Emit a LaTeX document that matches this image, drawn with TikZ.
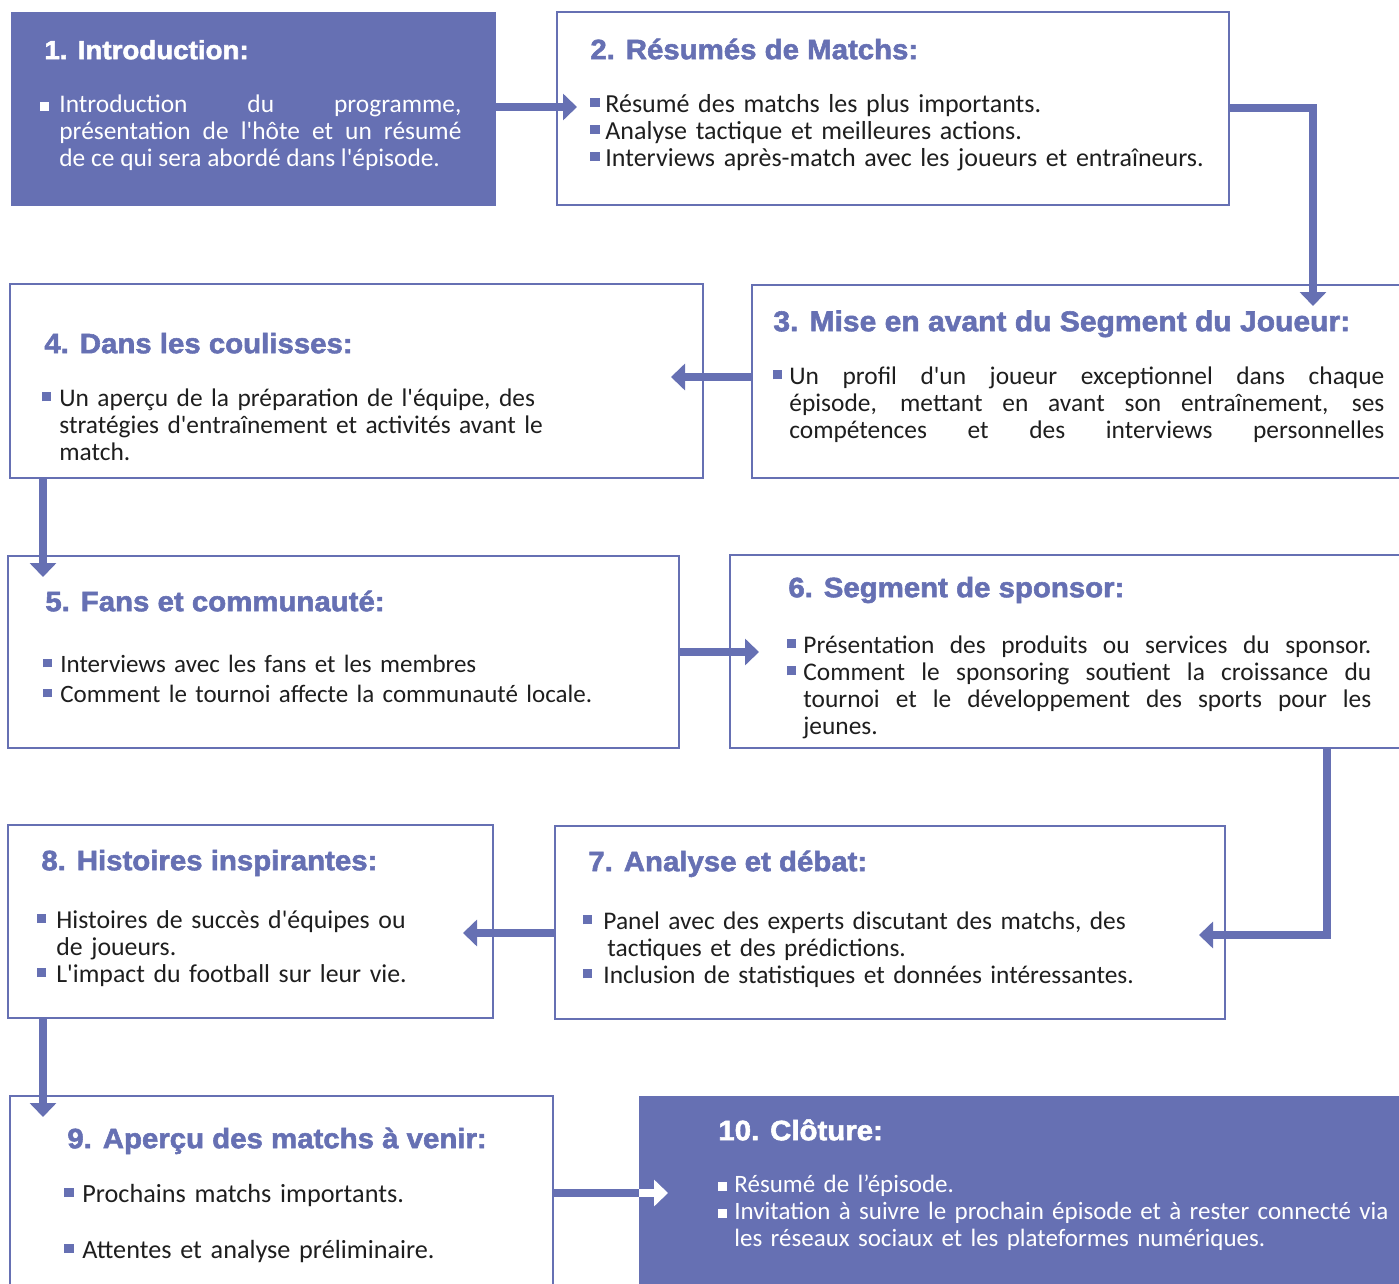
\documentclass[tikz,border=0pt]{standalone}
\usepackage{fontspec}
\setmainfont{Carlito}[Ligatures=TeXOff]
\newfontfamily\headfont{Liberation Sans}[FakeBold=2, FakeStretch=1.05]
\usetikzlibrary{arrows.meta,fit}

\definecolor{podblue}{HTML}{6670B3}
\definecolor{ink}{HTML}{1E1E1E}

\newlength\bulgap
\newcommand\bul{\par\noindent\hangindent\bulgap\hangafter1%
  \makebox[\bulgap][l]{\textcolor{podblue}{\rule[.2em]{.35em}{.35em}}}}
\newcommand\wbul{\par\noindent\hangindent\bulgap\hangafter1%
  \makebox[\bulgap][l]{\textcolor{white}{\rule[.05em]{.35em}{.35em}}}}

\begin{document}
\begin{tikzpicture}[x=0.5pt,y=-0.5pt,
    card/.style ={draw=podblue, line width=1pt, inner sep=0pt},
    filled/.style ={card, fill=podblue},
    head/.style ={font=\headfont\bfseries\fontsize{#1}{16}\selectfont, text=podblue,
                  inner sep=0pt, anchor=west, text height=.72em, text depth=.2em},
    head/.default=14,
    body/.style ={font=\fontsize{#1}{13.5}\selectfont, text=ink, inner sep=0pt,
                  anchor=north west, align=left},
    body/.default=12.7,
    gap/.style ={execute at begin node=\setlength\bulgap{#1}},
    flow/.style ={draw=podblue, line width=4pt, -{Triangle[width=13pt,length=7pt]}}]
   \useasboundingbox (0,0) rectangle (1399,1284);

   % boxes
   \node[filled, fit={(12,13) (495,205)}] (b1) {};
   \node[card, fit={(557,12) (1229,205)}] (b2) {};
   \node[card, fit={(752,285) (1404,478)}] (b3) {};
   \node[card, fit={(10,284) (703,478)}] (b4) {};
   \node[card, fit={(8,556) (679,748)}] (b5) {};
   \node[card, fit={(730,555) (1404,748)}] (b6) {};
   \node[card, fit={(555,826) (1225,1019)}] (b7) {};
   \node[card, fit={(8,825) (493,1018)}] (b8) {};
   \node[card, fit={(10,1096) (553,1290)}] (b9) {};
   \node[filled, fit={(640,1097) (1404,1290)}] (b10) {};

   % titles
   \node[head=13.2, text=white] (h1) at (44,54) {1. Introduction:};
   \node[head] (h2) at (590,54) {2. Résumés de Matchs:};
   \node[head=14.3] (h3) at (773,326) {3. Mise en avant du Segment du Joueur:};
   \node[head] (h4) at (44,348) {4. Dans les coulisses:};
   \node[head] (h5) at (45,606) {5. Fans et communauté:};
   \node[head] (h6) at (788,592) {6. Segment de sponsor:};
   \node[head] (h7) at (588,866) {7. Analyse et débat:};
   \node[head] (h8) at (41,865) {8. Histoires inspirantes:};
   \node[head] (h9) at (67,1143) {9. Aperçu des matchs à venir:};
   \node[head, text=white] (h10) at (718,1135) {10. Clôture:};

   % texts
   \node[body, gap=9.5pt, text=white, align=justify, text width=210.5pt] (t1) at (40,85)
     {\wbul Introduction du programme,\linebreak présentation de l'hôte et un résumé\linebreak de ce qui sera abordé dans l'épisode.\par};
   \node[body=13, gap=7.5pt, text width=320pt] (t2) at (590,85)
     {\bul Résumé des matchs les plus importants.\bul Analyse tactique et meilleures actions.\bul Interviews après-match avec les joueurs et entraîneurs.\par};
   \node[body, gap=8pt, align=justify, text width=305.5pt] (t3) at (773,357)
     {\bul Un profil d'un joueur exceptionnel dans chaque\linebreak épisode, mettant en avant son entraînement, ses\linebreak compétences et des interviews personnelles{\parfillskip=0pt\par}};
   \node[body, gap=8.5pt, text width=260pt] (t4) at (42,379)
     {\bul Un aperçu de la préparation de l'équipe, des\newline stratégies d'entraînement et activités avant le\newline match.\par};
   \node[body=12.5, gap=8.5pt, text width=300pt] (t5) at (43,645)
     {\bul Interviews avec les fans et les membres\par\vspace{1.5pt}\bul Comment le tournoi affecte la communauté locale.\par};
   \node[body, gap=8pt, align=justify, text width=292pt] (t6) at (787,626)
     {\bul Présentation des produits ou services du sponsor.{\parfillskip=0pt\par}\bul Comment le sponsoring soutient la croissance du\linebreak tournoi et le développement des sports pour les\linebreak jeunes.\par};
   \node[body, gap=10pt, text width=300pt] (t7) at (583,902)
     {\bul Panel avec des experts discutant des matchs, des\newline\hspace*{2pt}tactiques et des prédictions.\bul Inclusion de statistiques et données intéressantes.\par};
   \node[body=12.9, gap=9.5pt, text width=230pt] (t8) at (37,901)
     {\bul Histoires de succès d'équipes ou\newline de joueurs.\bul L'impact du football sur leur vie.\par};
   \node[body=13.1, gap=9pt, text width=230pt] (t9) at (64,1175)
     {\bul Prochains matchs importants.\par\vspace{14.5pt}\bul Attentes et analyse préliminaire.\par};
   \node[body=12.5, gap=8pt, text=white, text width=345pt] (t10) at (718,1165)
     {\wbul Résumé de l’épisode.\wbul Invitation à suivre le prochain épisode et à rester connecté via\newline les réseaux sociaux et les plateformes numériques.\par};

   % connectors
   \draw[flow, shorten >=-10.5pt] (b1.east |- 0,107) -- (b2.west |- 0,107);
   \draw[flow, shorten >=-11pt] (b2.east |- 0,108) -| (b3.north -| 1313,0);
   \draw[flow, shorten >=-16.5pt] (b3.west |- 0,377) -- (b4.east |- 0,377);
   \draw[flow, shorten >=-11pt] (b4.south -| 43,0) -- (b5.north -| 43,0);
   \draw[flow, shorten >=-15pt] (b5.east |- 0,652) -- (b6.west |- 0,652);
   \draw[flow, shorten >=-13.5pt] (b6.south -| 1327,0) |- (b7.east |- 0,935);
   \draw[flow, shorten >=-15.5pt] (b7.west |- 0,933) -- (b8.east |- 0,933);
   \draw[flow, shorten >=-11pt] (b8.south -| 43,0) -- (b9.north -| 43,0);
   \draw[draw=podblue, line width=4pt] (b9.east |- 0,1193) -- (b10.west |- 0,1193);
   \draw[flow, draw=white, shorten >=25pt] (b10.west |- 0,1193) -- (h10.west |- 0,1193);
 \end{tikzpicture}
\end{document}
